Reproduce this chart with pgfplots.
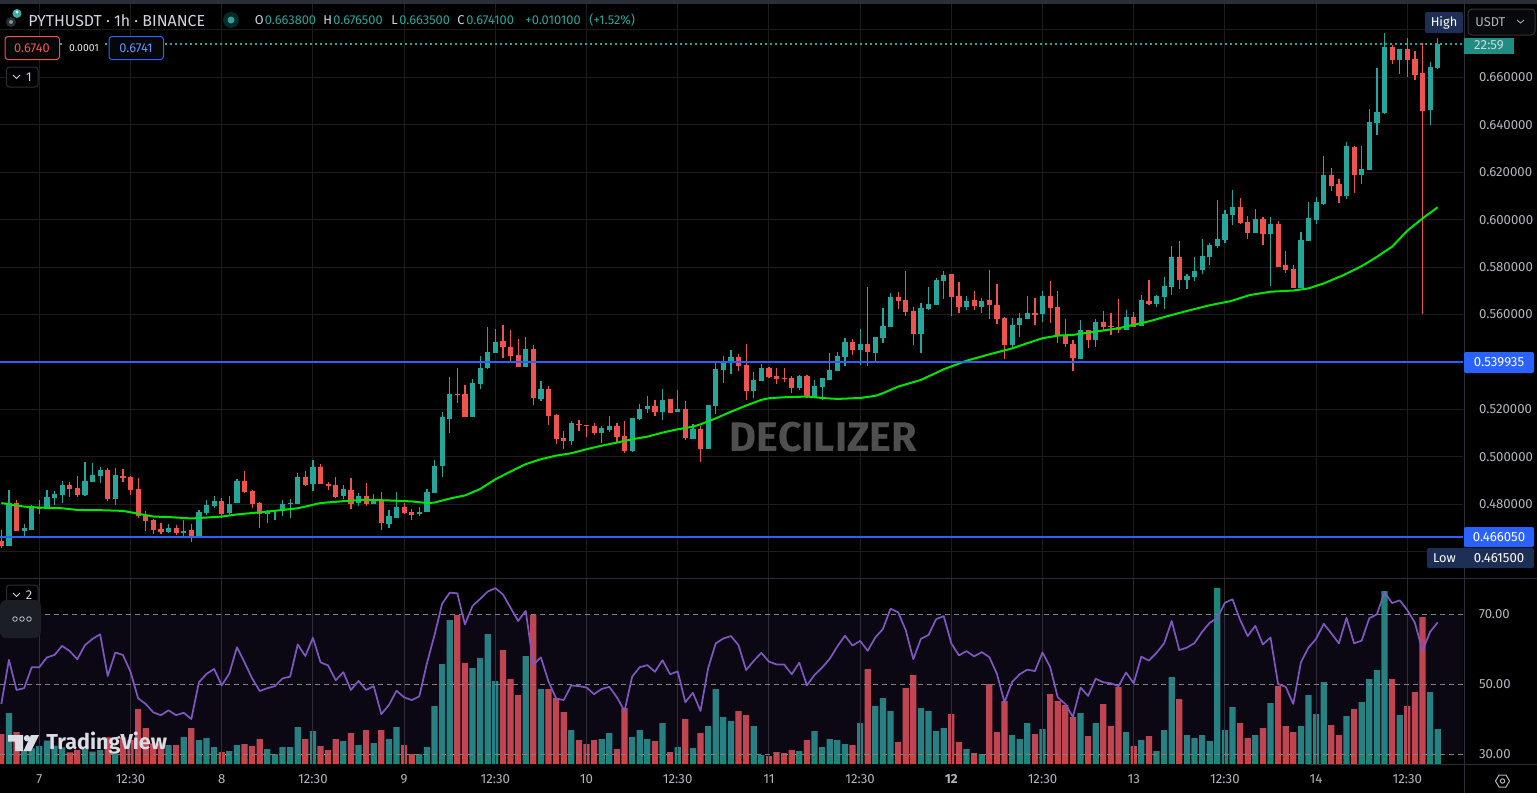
\documentclass[border=0pt]{standalone}
\usepackage{pgfplots}
\usepackage{pgfplotstable}
\usepackage{fontspec}
\setmainfont{Fira Sans}
\pgfplotsset{compat=1.18}
\definecolor{upc}{HTML}{26A69A}
\definecolor{dnc}{HTML}{EF5350}
\definecolor{gridc}{HTML}{1C1C1C}
\definecolor{txt}{HTML}{B2B5BE}
\definecolor{hdr}{HTML}{D1D4DC}
\definecolor{blu}{HTML}{2962FF}
\definecolor{nav}{HTML}{1E2F55}
\definecolor{stripe}{HTML}{2A2E39}
\definecolor{rsic}{HTML}{7E57C2}
\definecolor{mac}{HTML}{00E600}
\definecolor{volup}{HTML}{1E857B}
\definecolor{voldn}{HTML}{C84447}
\newcommand{\fs}[1]{\fontsize{#1pt}{#1pt}\selectfont}
% i open high low close volume
\pgfplotstableread{
i O H L C V
1 .4625 .4861 .4625 .4806 153
3 .4688 .4717 .4667 .4701 40
4 .4692 .4798 .4692 .4785 47
5 .4781 .4819 .4760 .4785 54
6 .4781 .4861 .4781 .4831 70
7 .4827 .4857 .4798 .4844 55
8 .4840 .4899 .4806 .4882 50
11 .4840 .4979 .4835 .4899 45
12 .4894 .4975 .4894 .4924 37
13 .4920 .4958 .4890 .4945 42
15 .4823 .4953 .4798 .4924 30
22 .4684 .4717 .4680 .4701 57
24 .4680 .4734 .4658 .4688 81
26 .4663 .4776 .4663 .4768 72
27 .4764 .4819 .4755 .4798 78
28 .4793 .4835 .4785 .4814 51
30 .4764 .4835 .4755 .4802 39
31 .4806 .4907 .4806 .4899 57
35 .4760 .4776 .4722 .4772 45
36 .4772 .4776 .4734 .4775 30
37 .4772 .4819 .4751 .4802 51
38 .4802 .4823 .4743 .4806 51
39 .4802 .4932 .4802 .4916 111
41 .4886 .4987 .4857 .4958 99
45 .4835 .4882 .4823 .4865 69
47 .4806 .4848 .4793 .4835 57
49 .4802 .4844 .4802 .4823 63
51 .4717 .4776 .4701 .4751 75
52 .4743 .4852 .4743 .4789 111
55 .4760 .4789 .4751 .4768 30
56 .4768 .4865 .4768 .4852 51
57 .4848 .4987 .4848 .4962 174
58 .4962 .5190 .4916 .5168 300
59 .5160 .5337 .5101 .5265 432
62 .5168 .5329 .5168 .5312 288
63 .5307 .5425 .5286 .5375 318
64 .5375 .5547 .5370 .5442 390
65 .5438 .5539 .5438 .5484 249
69 .5379 .5505 .5379 .5455 324
71 .5244 .5320 .5235 .5286 225
75 .5067 .5151 .5050 .5143 102
79 .5101 .5130 .5058 .5122 75
80 .5113 .5172 .5105 .5130 93
83 .5025 .5164 .5020 .5164 81
84 .5160 .5223 .5155 .5202 102
85 .5202 .5257 .5185 .5214 75
87 .5189 .5286 .5155 .5240 123
89 .5189 .5282 .5189 .5202 51
91 .5075 .5138 .5075 .5117 48
93 .5033 .5219 .5033 .5219 114
94 .5214 .5400 .5181 .5370 225
95 .5366 .5425 .5311 .5400 141
96 .5400 .5450 .5349 .5421 129
99 .5278 .5358 .5248 .5324 114
100 .5320 .5391 .5320 .5375 27
105 .5290 .5345 .5282 .5341 39
107 .5252 .5324 .5248 .5299 99
108 .5294 .5332 .5240 .5332 51
109 .5324 .5438 .5324 .5366 75
110 .5362 .5442 .5362 .5425 72
111 .5421 .5501 .5383 .5484 60
113 .5450 .5539 .5387 .5476 123
115 .5438 .5505 .5396 .5505 174
116 .5501 .5627 .5480 .5552 198
117 .5547 .5691 .5547 .5674 159
121 .5518 .5649 .5438 .5627 168
122 .5623 .5716 .5619 .5644 159
123 .5640 .5754 .5640 .5746 99
124 .5741 .5783 .5665 .5767 108
127 .5632 .5678 .5619 .5657 45
129 .5632 .5670 .5606 .5657 30
133 .5472 .5585 .5455 .5556 87
134 .5556 .5606 .5505 .5585 75
135 .5581 .5678 .5581 .5606 123
137 .5602 .5699 .5568 .5678 105
142 .5412 .5577 .5412 .5535 153
144 .5493 .5581 .5463 .5568 123
148 .5535 .5619 .5535 .5590 96
150 .5552 .5682 .5552 .5661 72
152 .5644 .5682 .5632 .5678 39
153 .5674 .5758 .5623 .5720 102
154 .5716 .5889 .5682 .5842 261
156 .5746 .5771 .5708 .5762 87
157 .5758 .5842 .5741 .5783 78
158 .5787 .5918 .5770 .5846 87
159 .5842 .5901 .5808 .5893 69
160 .5888 .6083 .5880 .5918 528
161 .5914 .6040 .5901 .6023 102
162 .6019 .6125 .5977 .6053 171
165 .5943 .6045 .5943 .6002 87
167 .5939 .6011 .5720 .5981 183
171 .5711 .5947 .5711 .5914 114
172 .5909 .6074 .5909 .6007 207
173 .5998 .6095 .5981 .6074 150
174 .6066 .6268 .6061 .6188 246
177 .6099 .6327 .6087 .6310 144
179 .6188 .6310 .6150 .6213 186
180 .6209 .6466 .6209 .6412 255
181 .6407 .6639 .6357 .6454 282
182 .6450 .6787 .6445 .6728 519
184 .6673 .6720 .6614 .6720 147
188 .6462 .6665 .6399 .6644 216
189 .6638 .6765 .6635 .6741 105
}\upT
\pgfplotstableread{
i O H L C V
0 .4646 .4692 .4616 .4625 90
2 .4806 .4819 .4688 .4688 96
9 .4882 .4894 .4831 .4865 35
10 .4869 .4920 .4831 .4840 42
14 .4945 .4953 .4814 .4823 80
16 .4920 .4949 .4894 .4911 80
17 .4916 .4920 .4840 .4861 72
18 .4865 .4911 .4743 .4751 165
19 .4755 .4772 .4688 .4730 108
20 .4734 .4738 .4675 .4692 62
21 .4696 .4722 .4675 .4684 62
23 .4701 .4713 .4671 .4680 57
25 .4692 .4717 .4642 .4663 108
29 .4814 .4827 .4743 .4760 36
32 .4899 .4941 .4848 .4852 60
33 .4857 .4861 .4785 .4802 54
34 .4806 .4810 .4701 .4760 75
40 .4916 .4941 .4878 .4882 75
42 .4958 .4970 .4886 .4886 54
43 .4886 .4894 .4861 .4878 42
44 .4882 .4916 .4827 .4831 75
46 .4861 .4911 .4781 .4802 93
48 .4835 .4890 .4793 .4802 102
50 .4819 .4852 .4692 .4722 102
53 .4789 .4806 .4760 .4764 57
54 .4768 .4781 .4734 .4755 30
60 .5265 .5375 .5227 .5261 447
61 .5265 .5303 .5168 .5168 303
66 .5488 .5556 .5417 .5463 342
67 .5463 .5535 .5400 .5425 255
68 .5429 .5497 .5379 .5379 207
70 .5455 .5471 .5219 .5248 447
72 .5286 .5299 .5134 .5172 225
73 .5176 .5181 .5054 .5075 198
74 .5079 .5109 .5033 .5067 156
76 .5138 .5155 .5109 .5134 72
77 .5134 .5134 .5084 .5131 60
78 .5130 .5143 .5092 .5101 72
81 .5130 .5143 .5063 .5084 45
82 .5088 .5151 .5016 .5025 168
86 .5214 .5240 .5172 .5189 69
88 .5244 .5244 .5185 .5185 36
90 .5202 .5235 .5071 .5079 135
92 .5117 .5130 .4978 .5033 93
97 .5421 .5434 .5362 .5383 159
98 .5387 .5476 .5240 .5278 147
101 .5375 .5379 .5332 .5337 24
102 .5341 .5375 .5307 .5328 36
103 .5332 .5375 .5315 .5328 33
104 .5332 .5341 .5269 .5290 42
106 .5341 .5345 .5248 .5252 72
112 .5484 .5497 .5429 .5450 57
114 .5476 .5716 .5383 .5442 285
118 .5674 .5695 .5623 .5657 66
119 .5661 .5783 .5594 .5611 228
120 .5615 .5632 .5472 .5518 267
125 .5771 .5771 .5594 .5674 150
126 .5678 .5737 .5606 .5632 66
128 .5661 .5699 .5619 .5636 33
130 .5661 .5788 .5581 .5640 240
131 .5640 .5729 .5560 .5581 96
132 .5585 .5590 .5412 .5472 189
136 .5606 .5670 .5556 .5598 90
138 .5678 .5741 .5564 .5627 210
139 .5632 .5699 .5480 .5509 189
140 .5509 .5581 .5463 .5476 177
141 .5476 .5493 .5362 .5417 141
143 .5535 .5535 .5459 .5493 84
145 .5568 .5615 .5535 .5547 180
146 .5552 .5606 .5514 .5547 114
147 .5547 .5665 .5522 .5535 231
149 .5590 .5611 .5547 .5547 54
151 .5657 .5746 .5640 .5644 84
155 .5842 .5910 .5708 .5746 195
163 .6053 .6091 .5981 .5985 123
164 .5990 .6015 .5918 .5943 78
166 .6002 .6011 .5893 .5939 108
168 .5981 .5994 .5800 .5800 234
169 .5808 .5867 .5774 .5787 114
170 .5791 .5808 .5711 .5711 96
175 .6188 .6217 .6120 .6142 117
176 .6150 .6171 .6070 .6099 87
178 .6306 .6310 .6112 .6188 165
183 .6728 .6737 .6656 .6673 255
185 .6720 .6766 .6601 .6673 174
186 .6677 .6711 .6589 .6610 216
187 .6618 .6745 .5600 .6458 441
}\dnT
\pgfplotstableread{
i M
0 .4805
3 .4790
5 .4786
8 .4783
10 .4776
13 .4775
16 .4772
18 .4760
20 .4748
22 .4746
25 .4740
29 .4748
31 .4757
35 .4769
39 .4783
42 .4805
45 .4813
48 .4819
51 .4816
54 .4812
56 .4805
57 .4807
59 .4824
61 .4837
63 .4864
65 .4905
67 .4938
69 .4969
71 .4990
73 .5005
75 .5015
77 .5032
79 .5047
81 .5060
83 .5074
85 .5085
87 .5102
89 .5116
91 .5127
92 .5137
94 .5162
96 .5190
98 .5216
100 .5240
101 .5247
103 .5251
106 .5254
108 .5248
110 .5244
113 .5248
115 .5257
116 .5268
118 .5296
121 .5324
124 .5369
127 .5405
130 .5432
133 .5457
135 .5479
137 .5500
139 .5511
141 .5514
144 .5528
147 .5542
151 .5571
154 .5598
156.4 .5618
159 .5639
161.7 .5656
164.3 .5682
167 .5696
170 .5701
172 .5710
174 .5731
176.6 .5766
179 .5804
181 .5843
183 .5886
185 .5953
187 .6005
189 .6052
}\maT
\pgfplotstableread{
i R
0 44.4
1 57.0
2 48.4
3 48.9
4 54.9
5 54.9
6 57.7
7 58.4
8 61.0
9 59.5
10 57.2
11 61.2
12 63.0
13 64.3
14 52.4
15 59.1
16 58.4
17 53.6
18 46.0
19 44.4
20 42.0
21 41.2
22 42.6
23 41.2
24 41.9
25 40.1
26 50.6
27 53.0
28 54.4
29 49.7
30 53.1
31 60.6
32 56.3
33 51.7
34 48.1
35 48.9
36 49.5
37 51.7
38 52.2
39 61.4
40 58.1
41 63.3
42 56.3
43 55.4
44 51.2
45 53.5
46 48.4
47 51.0
48 48.4
49 49.5
50 41.5
51 44.1
52 48.2
53 46.3
54 45.5
55 46.6
56 56.0
57 64.1
58 73.0
59 76.2
60 76.0
61 67.1
62 72.4
63 74.4
64 76.5
65 77.5
66 75.7
67 71.9
68 68.1
69 71.0
70 55.7
71 57.7
72 50.8
73 46.0
74 45.5
75 49.7
76 49.5
77 49.1
78 47.2
79 48.7
80 49.3
81 46.3
82 42.4
83 52.2
84 54.9
85 55.5
86 53.6
87 56.9
88 52.9
89 53.7
90 44.9
91 47.6
92 42.4
93 54.6
94 61.7
95 63.1
96 63.8
97 61.2
98 54.1
99 56.7
100 59.0
101 56.5
102 55.7
103 55.7
104 52.9
105 56.2
106 49.7
107 52.7
108 54.8
109 57.3
110 60.8
111 63.9
112 61.1
113 62.4
114 59.6
115 63.4
116 65.8
117 71.6
118 70.6
119 65.5
120 57.2
121 63.0
122 64.1
123 68.6
124 69.5
125 61.7
126 58.3
127 59.5
128 58.0
129 59.2
130 57.8
131 53.0
132 44.9
133 50.7
134 52.9
135 54.2
136 53.8
137 59.1
138 55.0
139 46.3
140 44.4
141 40.7
142 49.1
143 46.7
144 51.6
145 50.6
146 50.3
147 49.5
148 53.4
149 50.3
150 57.9
151 56.8
152 59.0
153 61.7
154 68.1
155 59.8
156 60.5
157 61.8
158 65.0
159 67.6
160 68.9
161 73.3
162 74.3
163 68.4
164 63.8
165 66.7
166 61.4
167 63.4
168 50.1
169 49.3
170 44.4
171 56.3
172 60.5
173 63.0
174 67.3
175 64.6
176 61.7
177 69.0
178 61.7
179 62.5
180 68.9
181 70.0
182 76.3
183 73.2
184 74.0
185 71.2
186 67.6
187 59.6
188 65.0
189 67.7
}\rsiT
\pgfplotsset{
  pane/.style={
    scale only axis, width=731.5pt, xmin=-0.175, xmax=192.33,
    axis line style={draw=none}, major tick length=0pt, clip=true,
    xtick={5,17,29,41,53,65,77,89,101,113,125,137,149,161,173,185},
  },
  wick/.style={draw=none, no markers, forget plot, error bars/.cd, y dir=minus, y explicit,
     error mark=none, error bar style={line width=0.6pt, draw=#1, solid}},
  body/.style={draw=none, no markers, forget plot, error bars/.cd, y dir=minus, y explicit,
     error mark=none, error bar style={line width=2.6pt, draw=#1, solid}},
}
\begin{document}
\begin{tikzpicture}
\useasboundingbox (0pt,-396.5pt) rectangle (768.5pt,0pt);
\fill[black] (0pt,-396.5pt) rectangle (768.5pt,0pt);
\fill[stripe] (0pt,-2pt) rectangle (768.5pt,0pt);

% main pane: grid, candles
\begin{axis}[pane, at={(0pt,-289pt)}, anchor=south west, height=287pt,
  ymin=0.4489, ymax=0.6909,
  xticklabels={}, grid=major, grid style={color=gridc, line width=0.5pt},
  ytick={0.48,0.50,0.52,0.56,0.58,0.60,0.62,0.64,0.66},
  extra y ticks={0.46,0.54,0.68}, extra y tick labels={},
  extra y tick style={grid=major, grid style={color=gridc, line width=0.5pt}},
  ticklabel pos=right,
  yticklabel style={anchor=west, xshift=4.5pt, text=txt, font=\fs{6.6},
     /pgf/number format/.cd, fixed, fixed zerofill, precision=6, assume math mode=true},
]
\addplot[wick=upc] table[x=i,y=H,y error minus expr=\thisrow{H}-\thisrow{L}]{\upT};
\addplot[wick=dnc] table[x=i,y=H,y error minus expr=\thisrow{H}-\thisrow{L}]{\dnT};
\addplot[body=upc] table[x=i,y=C,y error minus expr=\thisrow{C}-\thisrow{O}]{\upT};
\addplot[body=dnc] table[x=i,y=O,y error minus expr=\thisrow{O}-\thisrow{C}]{\dnT};
\addplot[mac, line width=1pt, line join=round] table[x=i,y=M]{\maT};
\addplot[blu, line width=0.9pt] coordinates {(-0.175,0.539935)(192.33,0.539935)};
\addplot[blu, line width=0.9pt] coordinates {(-0.175,0.46605)(192.33,0.46605)};
\addplot[upc, line width=0.7pt, dash pattern=on 0.9pt off 1.6pt] coordinates {(7.7,0.6741)(192.33,0.6741)};
\end{axis}

% volume (beneath the RSI band)
\begin{axis}[pane, at={(0pt,-382pt)}, anchor=south west, height=92.5pt,
  ymin=0, ymax=555, xticklabels={}, ytick=\empty, xtick=\empty]
\addplot[ybar, bar width=3.1pt, bar shift=0pt, fill=volup, draw=none] table[x=i,y=V]{\upT};
\addplot[ybar, bar width=3.1pt, bar shift=0pt, fill=voldn, draw=none] table[x=i,y=V]{\dnT};
\end{axis}

% RSI
\begin{axis}[pane, at={(0pt,-382pt)}, anchor=south west, height=92.5pt,
  ymin=27.26, ymax=80.09,
  xticklabels={7,12:30,8,12:30,9,12:30,10,12:30,11,12:30,\textbf{12},12:30,13,12:30,14,12:30},
  xticklabel style={text=txt, font=\fs{6.6}, anchor=center, yshift=-7.5pt},
  ytick={30,50,70}, ticklabel pos=right,
  xticklabel pos=bottom,
  ymajorgrids=false, xmajorgrids=true,
  grid style={color=white!16!black, line width=0.5pt},
  yticklabel style={anchor=west, xshift=4.5pt, text=txt, font=\fs{6.6},
     /pgf/number format/.cd, fixed, fixed zerofill, precision=2, assume math mode=true},
]
\addplot[draw=none, fill=rsic, fill opacity=0.1] coordinates {(-0.175,30)(192.33,30)(192.33,70)(-0.175,70)} --cycle;
\addplot[white!50!black, line width=0.5pt, dash pattern=on 2.5pt off 2pt] coordinates {(-0.175,70)(192.33,70)};
\addplot[white!50!black, line width=0.5pt, dash pattern=on 2.5pt off 2pt] coordinates {(-0.175,50)(192.33,50)};
\addplot[white!50!black, line width=0.5pt, dash pattern=on 2.5pt off 2pt] coordinates {(-0.175,30)(192.33,30)};
\addplot[rsic, line width=0.85pt, line join=round] table[x=i,y=R]{\rsiT};
\end{axis}

\begin{scope}[x=0.5pt,y=-0.5pt]
% frames
\draw[stripe, line width=0.5pt] (1464,4) -- (1464,793);
\draw[stripe, line width=0.5pt] (0,578.5) -- (1537,578.5);
\draw[stripe, line width=0.5pt] (1307,764.5) -- (1537,764.5);

% watermark
\node[anchor=center, inner sep=0pt, text=white!31!black] at (823.5,437) {\fs{20.7}\bfseries DECILIZER};

% header
\fill[upc!90!white] (17,13.5) circle (4.5);
\fill[white!90!upc] (17,12) circle (1.6);
\fill[stripe] (11,22) circle (5);
\fill[white!55!black] (11,22) circle (2);
\node[anchor=west, inner sep=0pt, text=hdr] at (28,20.5) {\fs{7.95}PYTHUSDT · 1h · BINANCE};
\fill[upc!25!black] (231,20) circle (8);
\fill[upc] (231,20) circle (3.5);
\begin{scope}[every node/.style={anchor=west, inner sep=0pt}]
\node[text=hdr] at (254.5,20.5) {\fs{6.4}O};
\node[text=upc] at (264.5,20.5) {\fs{6.4}0.663800};
\node[text=hdr] at (323,20.5) {\fs{6.4}H};
\node[text=upc] at (333,20.5) {\fs{6.4}0.676500};
\node[text=hdr] at (391,20.5) {\fs{6.4}L};
\node[text=upc] at (399,20.5) {\fs{6.4}0.663500};
\node[text=hdr] at (457,20.5) {\fs{6.4}C};
\node[text=upc] at (466,20.5) {\fs{6.4}0.674100};
\node[text=upc] at (525,20.5) {\fs{6.4}+0.010100};
\node[text=upc] at (589,20.5) {\fs{6.4}(+1.52\%)};
\end{scope}

% buy/sell boxes
\draw[dnc, fill=black!85!stripe, rounded corners=1.5pt, line width=0.5pt] (5,36.5) rectangle (59.5,59.5);
\node[text=dnc, inner sep=0pt] at (32,48.5) {\fs{6.4}0.6740};
\fill[black] (65,42) rectangle (103,55);
\node[text=white!90!black, inner sep=0pt] at (84,48) {\fs{5.2}0.0001};
\draw[blu, fill=black!85!stripe, rounded corners=1.5pt, line width=0.5pt] (109,36.5) rectangle (163.5,59.5);
\node[text=blu!70!white, inner sep=0pt] at (136,48.5) {\fs{6.4}0.6741};

% pane number boxes
\draw[stripe, fill=black, rounded corners=1.5pt, line width=0.5pt] (6.5,67) rectangle (38,87);
\draw[hdr, line width=0.4pt] (13,75) -- (16.5,78.5) -- (20,75);
\node[text=hdr, inner sep=0pt] at (29,77) {\fs{6.4}1};
\draw[stripe, fill=black, rounded corners=1.5pt, line width=0.5pt] (6.5,585) rectangle (38,605);
\draw[hdr, line width=0.4pt] (13,593) -- (16.5,596.5) -- (20,593);
\node[text=hdr, inner sep=0pt] at (29,595) {\fs{6.4}2};
\fill[stripe!65!black, rounded corners=3pt] (0,600) rectangle (41,638);
\foreach \cx in {15,22,29} \draw[hdr, line width=0.35pt] (\cx,619) circle (2.3);

% right-hand labels
\fill[nav, rounded corners=1pt] (1425,12) rectangle (1463,33);
\node[text=white, inner sep=0pt] at (1444,22.5) {\fs{6.4}High};
\fill[upc!85!black] (1464,38) rectangle (1514,54);
\node[text=hdr, inner sep=0pt] at (1489,45.5) {\fs{6.6}22:59};
\draw[white!20!black, fill=black!80!stripe, rounded corners=2pt, line width=0.5pt] (1468,9) rectangle (1535,35);
\node[text=txt, anchor=west, inner sep=0pt] at (1475,22) {\fs{6.4}USDT};
\draw[txt, line width=0.4pt] (1517,20) -- (1520.5,23) -- (1524,20);
\fill[blu, rounded corners=1pt] (1464,352) rectangle (1534,373);
\node[text=white, inner sep=0pt] at (1499,362.5) {\fs{6.6}0.539935};
\fill[blu, rounded corners=1pt] (1464,527) rectangle (1534,547);
\node[text=white, inner sep=0pt] at (1499,537) {\fs{6.6}0.466050};
\fill[nav, rounded corners=1pt] (1427,548) rectangle (1534,568);
\node[text=white, inner sep=0pt] at (1444.5,558) {\fs{6.4}Low};
\node[text=white, inner sep=0pt] at (1499,558) {\fs{6.6}0.461500};

% TradingView mark
\fill[hdr!80!white] (8,735) -- (23,735) -- (23,751) -- (15,751) -- (15,741.5) -- (8,741.5) -- cycle;
\fill[hdr!80!white] (27,738.2) circle (3.2);
\fill[hdr!80!white] (31,735) -- (39,735) -- (31,751) -- (23.5,751) -- cycle;
\node[anchor=west, inner sep=0pt, text=hdr!80!white] at (46,743) {\fs{10.8}\bfseries TradingView};

% settings
\draw[txt, line width=0.5pt] (1495.5,781) -- (1499,775) -- (1506,775) -- (1509.5,781) -- (1506,787) -- (1499,787) -- cycle;
\draw[txt, line width=0.5pt] (1502.5,781) circle (2.2);
\end{scope}
\end{tikzpicture}
\end{document}
